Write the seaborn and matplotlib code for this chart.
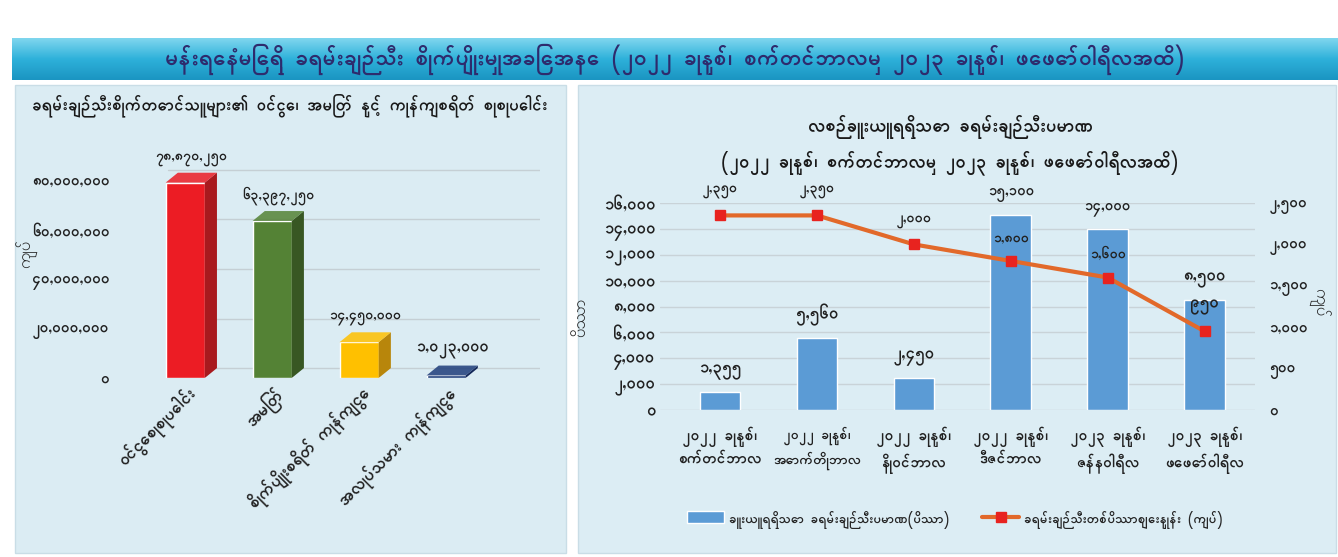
import numpy as np
import pandas as pd
import matplotlib.pyplot as plt
import seaborn as sns
from matplotlib.patches import Polygon, Rectangle
from matplotlib.ticker import FuncFormatter
from matplotlib.lines import Line2D

# data
main_title = 'မန်းရေနံမြေရှိ ခရမ်းချဉ်သီး စိုက်ပျိုးမှုအခြေအနေ (၂၀၂၂ ခုနှစ်၊ စက်တင်ဘာလမှ ၂၀၂၃ ခုနှစ်၊ ဖေဖော်ဝါရီလအထိ)'

left_title = 'ခရမ်းချဉ်သီးစိုက်တောင်သူများ၏ ဝင်ငွေ၊ အမြတ် နှင့် ကုန်ကျစရိတ် စုစုပေါင်း'
cost_items = ['ဝင်ငွေစုစုပေါင်း', 'အမြတ်', 'စိုက်ပျိုးစရိတ် ကုန်ကျငွေ', 'အလုပ်သမား ကုန်ကျငွေ']
cost_values = [78870250, 63397250, 14450000, 1023000]
cost_colors = ['#ec1c24', '#548235', '#ffc000', '#1f3d7a']
cost_side = ['#a81a1e', '#385723', '#b8860b', '#14285a']
cost_ticks = [0, 20000000, 40000000, 60000000, 80000000]

right_title = 'လစဉ်ခူးယူရရှိသော ခရမ်းချဉ်သီးပမာဏ\n(၂၀၂၂ ခုနှစ်၊ စက်တင်ဘာလမှ ၂၀၂၃ ခုနှစ်၊ ဖေဖော်ဝါရီလအထိ)'
months = ['၂၀၂၂ ခုနှစ်၊\nစက်တင်ဘာလ', '၂၀၂၂ ခုနှစ်၊\nအောက်တိုဘာလ', '၂၀၂၂ ခုနှစ်၊\nနိုဝင်ဘာလ',
          '၂၀၂၂ ခုနှစ်၊\nဒီဇင်ဘာလ', '၂၀၂၃ ခုနှစ်၊\nဇန်နဝါရီလ', '၂၀၂၃ ခုနှစ်၊\nဖေဖော်ဝါရီလ']
harvest = [1355, 5560, 2450, 15100, 14000, 8500]
price = [2350, 2350, 2000, 1800, 1600, 950]
harvest_ticks = [0, 2000, 4000, 6000, 8000, 10000, 12000, 14000, 16000]
price_ticks = [0, 500, 1000, 1500, 2000, 2500]
harvest_name = 'ခူးယူရရှိသော ခရမ်းချဉ်သီးပမာဏ(ပိဿာ)'
price_name = 'ခရမ်းချဉ်သီးတစ်ပိဿာဈေးနှုန်း (ကျပ်)'

MM = str.maketrans('0123456789', '၀၁၂၃၄၅၆၇၈၉')
def mm(n):
    return f'{int(round(n)):,}'.translate(MM)


sns.set_style('white')
plt.rcParams['font.family'] = ['Padauk', 'Noto Sans Myanmar', 'DejaVu Sans']
plt.rcParams['font.weight'] = 'bold'

W, H = 1338, 557
fig = plt.figure(figsize=(W / 100, H / 100), dpi=100)
fig.patch.set_facecolor('white')

def fr(x0, y0, x1, y1):
    return [x0 / W, 1 - y1 / H, (x1 - x0) / W, (y1 - y0) / H]

fit = []  # (text, max width px)

# panels
for box, col in [(fr(15, 85, 566, 553), '#dbecf3'), (fr(578, 85, 1336, 553), '#dcedf4')]:
    fig.add_artist(Rectangle((box[0], box[1]), box[2], box[3], transform=fig.transFigure,
                             facecolor=col, edgecolor='#c9dde6', lw=1, zorder=0))

# banner
bax = fig.add_axes(fr(12, 38, 1338, 80))
grad = np.linspace(0, 1, 50)[:, None]
cmap = sns.blend_palette(['#7fd6ee', '#2eb1da', '#1b95c2'], as_cmap=True)
bax.imshow(grad, aspect='auto', cmap=cmap, extent=[0, 1, 0, 1])
bax.axis('off')
t = bax.text(0.5, 0.5, main_title, ha='center', va='center', fontsize=17, fontweight='bold',
             color='#2e2b6d', transform=bax.transAxes)
fit.append((t, 1020))

# left chart
ax = fig.add_axes(fr(140, 160, 540, 378))
ax.set_facecolor('none')
dfl = pd.DataFrame({'item': cost_items, 'value': cost_values})
sns.barplot(data=dfl, x='item', y='value', hue='item', palette=cost_colors, width=0.45,
            legend=False, ax=ax, saturation=1, zorder=3)
ax.set_xlim(-0.52, 4.08)
ax.set_ylim(0, 88e6)
dx, dy = 0.14, 4e6
for p, side in zip(list(ax.patches), cost_side):
    x0, x1, h = p.get_x(), p.get_x() + p.get_width(), p.get_height()
    ax.add_patch(Polygon([(x1, 0), (x1 + dx, dy), (x1 + dx, h + dy), (x1, h)],
                         facecolor=side, edgecolor='none', zorder=3))
    ax.add_patch(Polygon([(x0, h), (x1, h), (x1 + dx, h + dy), (x0 + dx, h + dy)],
                         facecolor=p.get_facecolor(), edgecolor='none', zorder=3, alpha=0.85))
    t = ax.text(p.get_x() + p.get_width() / 2 + dx / 2, h + dy + 2.5e6, mm(h), ha='center',
                va='bottom', fontsize=12, color='#222222')
    fit.append((t, 72))
ax.set_yticks(cost_ticks)
ax.yaxis.set_major_formatter(FuncFormatter(lambda v, _: mm(v)))
for tk in cost_ticks:
    ax.plot([-0.2, 4.08], [tk + dy, tk + dy], color='#c5cfd4', lw=1, zorder=1)
ax.set_xticks(range(len(cost_items)))
ax.set_xticklabels(cost_items, rotation=45, ha='right', rotation_mode='anchor', fontsize=12)
ax.tick_params(axis='both', length=0, labelsize=12, colors='#222222')
ax.tick_params(axis='y', pad=22, labelsize=11)
ax.set_xlabel('')
ax.set_ylabel('ကျပ်', fontsize=12, labelpad=4)
ax.yaxis.set_label_coords(-0.255, 0.57)
sns.despine(ax=ax, left=True, bottom=True)
t = fig.text(290 / W, 1 - 105 / H, left_title, ha='center', va='center', fontsize=14,
             fontweight='bold', color='#1a1a1a')
fit.append((t, 515))

# right chart
ax = fig.add_axes(fr(660, 203, 1255, 410))
ax.set_facecolor('none')
dfr = pd.DataFrame({'month': months, 'harvest': harvest, 'price': price})
sns.barplot(data=dfr, x='month', y='harvest', color='#5b9bd5', width=0.42, saturation=1,
            ax=ax, zorder=3)
ax.set_ylim(0, 16000)
ax.set_yticks(harvest_ticks)
ax.yaxis.set_major_formatter(FuncFormatter(lambda v, _: mm(v)))
ax.grid(axis='y', color='#c9d3d8', lw=1)
ax.set_axisbelow(True)
for p in ax.patches:
    h = p.get_height()
    t = ax.annotate(mm(h), (p.get_x() + p.get_width() / 2, h), xytext=(0, 9),
                    textcoords='offset points', ha='center', va='bottom', fontsize=12,
                    color='#222222')
    fit.append((t, 46))
ax.tick_params(axis='both', length=0, labelsize=12, colors='#222222')
ax.tick_params(axis='x', pad=12, labelsize=11)
for lab in ax.get_xticklabels():
    lab.set_linespacing(1.5)
    fit.append((lab, 88))
ax.set_xlabel('')
ax.set_ylabel('ပိဿာ', fontsize=12)
ax.yaxis.set_label_coords(-0.12, 0.45)
sns.despine(ax=ax, left=True, bottom=True)

ax2 = ax.twinx()
sns.lineplot(x=np.arange(len(price)), y=price, ax=ax2, color='#e2692a', lw=3, zorder=4)
ax2.plot(np.arange(len(price)), price, ls='none', marker='s', ms=7, color='#e8231f', zorder=5)
for i, v in enumerate(price):
    t = ax2.annotate(mm(v), (i, v), xytext=(0, 12), textcoords='offset points', ha='center',
                     va='bottom', fontsize=12, color='#222222')
    fit.append((t, 36))
ax2.set_ylim(0, 2500)
ax2.set_yticks(price_ticks)
ax2.yaxis.set_major_formatter(FuncFormatter(lambda v, _: mm(v)))
ax2.tick_params(axis='y', length=0, labelsize=11, colors='#222222', pad=10)
ax2.set_ylabel('ကျပ်', fontsize=12, rotation=270, labelpad=14)
ax2.yaxis.set_label_coords(1.125, 0.52)
for s in ax2.spines.values():
    s.set_visible(False)
ax.set_xlim(-0.62, 5.52)
ax2.set_xlim(-0.62, 5.52)

t = fig.text(950 / W, 1 - 145 / H, right_title, ha='center', va='center', fontsize=13,
             color='#1a1a1a', linespacing=1.7)
fit.append((t, 500))

handles = [Rectangle((0, 0), 1, 1, facecolor='#5b9bd5'),
           Line2D([], [], color='#e2692a', lw=3, marker='s', ms=7, mfc='#e8231f', mec='#e8231f')]
leg = fig.legend(handles, [harvest_name, price_name], loc='center',
                 bbox_to_anchor=(955 / W, 1 - 520 / H), ncol=2, frameon=False, fontsize=12,
                 handlelength=2.2, columnspacing=2.0, handletextpad=0.3)

# shrink texts that run too wide for their place
fig.canvas.draw()
r = fig.canvas.get_renderer()
for txt, maxw in fit:
    w = txt.get_window_extent(r).width
    if w > maxw:
        txt.set_fontsize(txt.get_fontsize() * maxw / w)
lw = leg.get_window_extent(r).width
if lw > 540:
    for lt in leg.get_texts():
        lt.set_fontsize(12 * 520 / lw)

fig.savefig('out.png', dpi=100, facecolor='white')
